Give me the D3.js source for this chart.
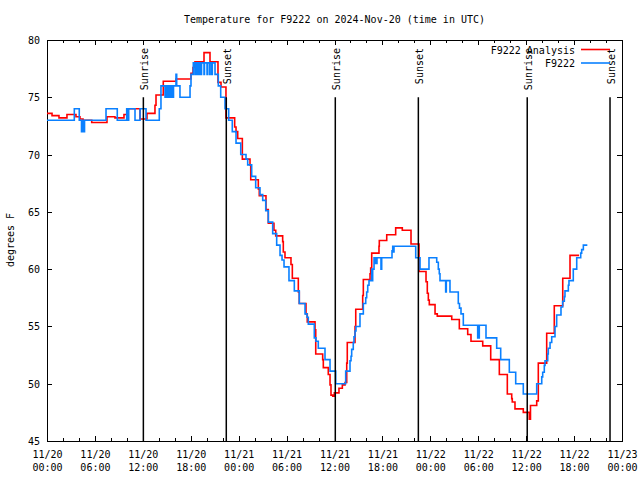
<!DOCTYPE html>
<html><head><meta charset="utf-8">
<script src="https://cdn.jsdelivr.net/npm/d3@7"></script>
<style>body{margin:0;background:#fff}svg{display:block}</style>
</head><body><svg id="c" width="640" height="480"></svg>
<script>
const titleText = "Temperature for F9222 on 2024-Nov-20 (time in UTC)";
const yLabel = "degrees F";
const seriesNames = ["F9222 Analysis", "F9222"];
const seriesColors = ["#ff0000", "#0a80ff"];
const yTicks = [45, 50, 55, 60, 65, 70, 75, 80];
const startUTC = "2024-11-20T00:00:00Z";
const spanHours = 72;

// Analysis (red) : hours since 2024-11-20 00:00 UTC, temperature F
const analysisHours = [0,0.63,1.50,2.50,3.63,4.13,4.51,5.60,7.51,8.51,9.64,10.02,11.65,12.52,13.52,13.65,14.56,16.15,18.03,18.28,18.53,19.66,20.41,21.41,21.79,22.41,23.50,23.67,23.88,24.46,25.42,25.51,26.46,26.58,27.42,27.71,28.42,28.64,29.51,29.59,29.80,30.55,30.72,31.47,31.59,32.43,32.59,33.56,33.65,34.52,34.60,35.22,35.44,35.56,35.78,35.98,36.56,36.98,37.32,37.53,37.60,38.57,38.66,39.53,39.61,40.45,40.53,40.66,41.57,41.61,42.54,43.66,44.49,45.58,46.58,47.46,47.62,47.75,47.87,48.59,48.87,50.68,51.63,52.68,53.09,54.56,55.56,56.64,57.64,58.19,58.26,58.60,59.64,60.39,60.54,61.32,61.52,62.57,63.52,64.58,65.49,66.62];
const analysisTemps = [73.6,73.4,73.2,73.5,73.3,73.1,73.0,72.8,73.3,73.2,73.5,74.0,73.1,73.6,74.3,75.2,76.4,76.6,77.1,77.6,78.1,78.9,78.1,76.3,75.9,73.2,72.4,72.0,71.4,69.6,69.1,67.8,67.0,66.4,65.2,64.0,63.4,62.9,62.4,61.5,61.0,60.4,59.2,58.0,57.0,56.1,55.4,54.7,52.6,52.1,51.4,50.8,49.9,49.0,48.9,49.2,49.6,49.9,50.1,51.8,53.6,55.0,56.5,57.7,59.1,59.6,60.1,61.4,62.0,62.5,63.0,63.6,63.4,62.2,59.8,58.9,57.9,57.3,56.9,56.1,55.9,55.6,54.8,54.3,53.7,53.3,52.1,50.8,49.1,48.7,48.4,47.8,47.5,46.9,48.1,48.5,51.8,54.4,56.8,59.2,61.2,61.2];

// Observations (blue)
const obsHours = [0,3.42,4.04,4.32,4.45,4.57,4.70,7.39,8.80,9.98,10.11,10.23,11.02,11.65,12.40,14.06,14.27,14.78,14.84,14.96,15.03,15.15,15.21,15.34,15.40,15.53,15.59,15.78,15.84,16.15,16.24,16.65,17.91,18.03,18.32,18.53,18.60,18.78,18.85,19.03,19.10,19.28,19.35,19.66,19.72,20.04,20.10,20.35,20.41,20.62,20.70,21.04,21.45,21.75,22.29,22.75,23.20,23.67,24.26,24.92,25.13,25.63,26.13,26.67,27.01,27.39,27.71,28.26,28.76,29.18,29.43,29.68,30.30,30.97,31.59,32.31,32.56,32.72,33.47,33.68,33.97,34.81,35.44,36.15,37.40,37.94,38.07,38.15,38.35,38.44,38.57,38.69,39.19,39.61,39.91,40.03,40.16,40.32,40.66,40.73,40.78,40.95,41.07,41.13,41.26,41.32,41.82,41.91,43.20,43.29,43.36,43.45,46.17,46.71,47.83,48.80,49.00,49.12,49.21,49.92,50.00,50.46,51.50,51.65,51.84,52.13,53.93,54.13,54.97,56.31,56.81,57.89,58.69,59.64,61.32,61.95,62.07,62.27,62.36,62.70,62.77,62.99,63.20,63.61,63.82,64.36,64.57,64.78,64.86,65.28,65.36,65.90,66.33,66.83,66.95,67.16,67.66];
const obsTemps = [73,74,73,72,73,72,73,74,73,74,73,74,73,74,73,74,76,75,76,75,76,75,76,75,76,75,76,75,76,77,76,75,76,77,78,77,78,77,78,77,78,77,78,77,78,77,78,77,78,77,78,77,76,75,74,73,72,71,70,69.6,69.1,68.1,67.1,66.5,66.0,65.1,64.1,63.1,62.1,61.2,60.8,60.2,59.0,58.1,57.0,56.1,55.8,55.2,54.0,53.7,53.1,52.1,51.1,50.0,51.1,52.0,52.4,53.0,53.6,54.1,54.6,55.0,56.1,57.0,57.5,58.0,58.6,59.0,60.0,59.0,60.0,61.0,60.5,61.0,60.5,61.0,60.0,61.0,61.6,62.0,61.5,62.0,61.0,60.0,61.0,60.6,60.0,59.6,59.0,58.0,59.0,58.0,57.0,56.6,56.1,55.1,54.0,55.1,54.0,53.1,52.1,51.0,50.0,49.1,50.0,50.6,51.0,51.6,52.0,52.6,53.1,53.6,54.1,55.0,56.0,56.7,57.2,57.6,58.1,58.6,59.0,60.0,61.0,61.4,61.7,62.1,62.1];

const sunTimes = ["2024-11-20T12:04:00Z","2024-11-20T22:27:00Z","2024-11-21T12:06:00Z","2024-11-21T22:30:00Z","2024-11-22T12:08:00Z","2024-11-22T22:30:00Z"];
const sunLabels = ["Sunrise","Sunset","Sunrise","Sunset","Sunrise","Sunset"];
const sunLineTop = 75;

const FONT = "'DejaVu Sans Mono', monospace";
const base = new Date(startUTC).getTime();
const toDate = h => new Date(base + h * 3600e3);

const x = d3.scaleUtc().domain([toDate(0), toDate(spanHours)]).range([47, 622]);
const y = d3.scaleLinear().domain([45, 80]).range([441, 40]);

const svg = d3.select("#c");
svg.append("rect").attr("width", 640).attr("height", 480).attr("fill", "#fff");

const majorX = d3.utcHour.every(6).range(toDate(0), toDate(spanHours + 0.01));
const minorX = d3.utcHour.every(2).range(toDate(0), toDate(spanHours + 0.01)).filter(d => d.getUTCHours() % 6 !== 0);

function styleAxis(g) {
  g.select(".domain").remove();
  g.attr("font-family", FONT).attr("font-size", 10).attr("color", "#000");
  g.selectAll("line").attr("shape-rendering", "crispEdges");
}

// bottom major with labels
const fmtD = d3.utcFormat("%m/%d"), fmtT = d3.utcFormat("%H:%M");
const gB = svg.append("g").attr("transform", "translate(0,441)")
  .call(d3.axisBottom(x).tickValues(majorX).tickSizeInner(-5).tickSizeOuter(0).tickFormat(fmtD));
styleAxis(gB);
gB.selectAll(".tick text").each(function(d) {
  const t = d3.select(this).attr("dy", null).attr("y", null).text(null);
  t.append("tspan").attr("x", 0).attr("y", 16.5).text(fmtD(d));
  t.append("tspan").attr("x", 0).attr("y", 30).text(fmtT(d));
});
// bottom minor
styleAxis(svg.append("g").attr("transform", "translate(0,441)")
  .call(d3.axisBottom(x).tickValues(minorX).tickSizeInner(-3).tickSizeOuter(0).tickFormat("")));
// top mirrors
styleAxis(svg.append("g").attr("transform", "translate(0,40)")
  .call(d3.axisTop(x).tickValues(majorX).tickSizeInner(-5).tickSizeOuter(0).tickFormat("")));
styleAxis(svg.append("g").attr("transform", "translate(0,40)")
  .call(d3.axisTop(x).tickValues(minorX).tickSizeInner(-3).tickSizeOuter(0).tickFormat("")));
// left
const gL = svg.append("g").attr("transform", "translate(47,0)")
  .call(d3.axisLeft(y).tickValues(yTicks).tickSizeInner(-5).tickSizeOuter(0).tickPadding(7).tickFormat(d3.format("d")));
styleAxis(gL);
gL.selectAll(".tick text").attr("dy", "0.35em");
// right
styleAxis(svg.append("g").attr("transform", "translate(622,0)")
  .call(d3.axisRight(y).tickValues(yTicks).tickSizeInner(-5).tickSizeOuter(0).tickFormat("")));

// border
svg.append("rect").attr("x", 47.5).attr("y", 40.5).attr("width", 575).attr("height", 401)
  .attr("fill", "none").attr("stroke", "#000").attr("stroke-width", 1).attr("shape-rendering", "crispEdges");

// clip
svg.append("clipPath").attr("id", "clip").append("rect").attr("x", 47).attr("y", 40).attr("width", 575).attr("height", 401);

const line = d3.line().curve(d3.curveStepAfter).x(d => x(toDate(d[0]))).y(d => y(d[1]));
const series = [
  d3.zip(analysisHours, analysisTemps),
  d3.zip(obsHours, obsTemps)
];
svg.append("g").attr("clip-path", "url(#clip)").selectAll("path").data(series).join("path")
  .attr("d", line).attr("fill", "none")
  .attr("stroke", (d, i) => seriesColors[i]).attr("stroke-width", 1.6);

// sunrise / sunset lines
const sun = svg.append("g");
sunTimes.forEach((t, i) => {
  const xp = x(new Date(t));
  sun.append("line").attr("x1", xp).attr("x2", xp).attr("y1", y(45)).attr("y2", y(sunLineTop))
    .attr("stroke", "#000").attr("stroke-width", 1.5);
  sun.append("text").attr("transform", `translate(${xp + 4.5},48) rotate(-90)`)
    .attr("text-anchor", "end").attr("font-family", FONT).attr("font-size", 10).text(sunLabels[i]);
});

// legend
const leg = svg.append("g").attr("font-family", FONT).attr("font-size", 10);
seriesNames.forEach((n, i) => {
  const yy = 49.5 + i * 13.5;
  leg.append("text").attr("x", 575).attr("y", yy + 4).attr("text-anchor", "end").text(n);
  leg.append("line").attr("x1", 581).attr("x2", 610).attr("y1", yy).attr("y2", yy)
    .attr("stroke", seriesColors[i]).attr("stroke-width", 1.6);
});

// title and y label
svg.append("text").attr("x", 334.5).attr("y", 23).attr("text-anchor", "middle")
  .attr("font-family", FONT).attr("font-size", 10).text(titleText);
svg.append("text").attr("transform", "translate(13.5,240) rotate(-90)").attr("text-anchor", "middle")
  .attr("font-family", FONT).attr("font-size", 10).text(yLabel);
</script>
</body></html>
